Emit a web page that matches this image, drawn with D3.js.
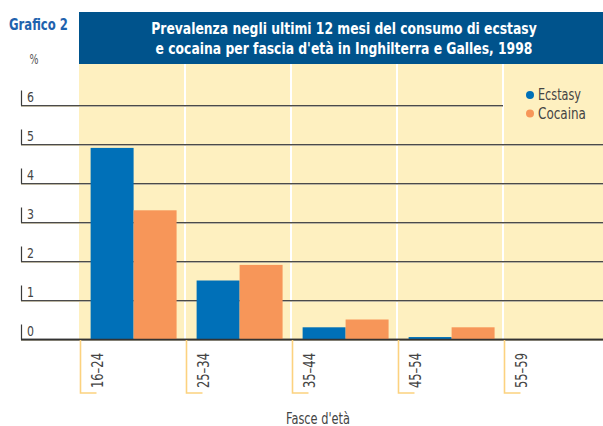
<!DOCTYPE html>
<html><head><meta charset="utf-8">
<script src="https://cdn.jsdelivr.net/npm/d3@7"></script>
<style>
html,body{margin:0;padding:0;background:#fff;}
svg{display:block;}
text{font-family:"Liberation Sans Narrow","DejaVu Sans Condensed","Arial Narrow",sans-serif;}
</style>
</head><body>
<svg id="chart" width="603" height="426"></svg>
<script>
const categories = ["16–24", "25–34", "35–44", "45–54", "55–59"];
const seriesNames = ["Ecstasy", "Cocaina"];
const ecstasy = [4.9, 1.5, 0.3, 0.05, 0];
const cocaina = [3.3, 1.9, 0.5, 0.3, 0];
const yTicks = [0, 1, 2, 3, 4, 5, 6];
const titleLines = ["Prevalenza negli ultimi 12 mesi del consumo di ecstasy", "e cocaina per fascia d'età in Inghilterra e Galles, 1998"];
const colors = {Ecstasy: "#0070b8", Cocaina: "#f79659"};

const svg = d3.select("#chart");
const W = 603, H = 426;
const plotLeft = 79, plotTop = 64, bandW = 106;

// place a text condensed horizontally to a target width (anchor: start|middle|end)
function fitText(parent, str, px, py, size, weight, fill, targetW, anchor, rotate) {
  const g = parent.append("g");
  const t = g.append("text").attr("font-size", size).attr("font-weight", weight).attr("fill", fill).attr("text-anchor", anchor).text(str);
  const w = t.node().getComputedTextLength();
  const sx = Math.min(1, targetW / w);
  g.attr("transform", `translate(${px},${py})` + (rotate ? ` rotate(${rotate})` : "") + ` scale(${sx},1)`);
  return g;
}

const x = d3.scaleBand().domain(categories).range([plotLeft, plotLeft + bandW * categories.length]).paddingInner(0).paddingOuter(0);
const xs = d3.scaleBand().domain(seriesNames).range([0, x.bandwidth()]).paddingInner(0).paddingOuter(0.233).align(0.58);
const y = d3.scaleLinear().domain([0, 6]).range([339, 105]);

// yellow background
svg.append("rect").attr("x", plotLeft).attr("y", plotTop).attr("width", W - plotLeft).attr("height", y(0) - plotTop).attr("fill", "#fef0c0");

// separators
svg.selectAll("line.sep").data(categories.slice(1)).join("line")
  .attr("x1", d => x(d)).attr("x2", d => x(d)).attr("y1", plotTop).attr("y2", y(0))
  .attr("stroke", "#ffffff").attr("stroke-width", 2);

// gridlines
const gridG = svg.append("g");
yTicks.forEach(t => {
  const yy = Math.round(y(t)) + 0.5;
  const xEnd = t === 6 ? x("55–59") : W;
  gridG.append("line").attr("x1", 21).attr("x2", xEnd).attr("y1", yy + 1).attr("y2", yy + 1).attr("stroke", "#b9b3a0").attr("stroke-width", 1);
  gridG.append("line").attr("x1", 21).attr("x2", xEnd).attr("y1", yy).attr("y2", yy).attr("stroke", "#4a4a4a").attr("stroke-width", t === 0 ? 1.6 : 1.2);
  gridG.append("line").attr("x1", 21.5).attr("x2", 21.5).attr("y1", yy - 15).attr("y2", yy).attr("stroke", "#3a3a3a").attr("stroke-width", 1.2);
  fitText(gridG, d3.format("d")(t), 27, yy - 4, 14.5, "normal", "#444", 7, "start");
});

// bars
const series = [ecstasy, cocaina];
seriesNames.forEach((s, si) => {
  svg.append("g").selectAll("rect").data(categories).join("rect")
    .attr("x", d => x(d) + xs(s))
    .attr("width", xs.bandwidth())
    .attr("y", (d, i) => y(series[si][i]))
    .attr("height", (d, i) => y(0) - y(series[si][i]))
    .attr("fill", colors[s]);
});

// redraw baseline on top
svg.append("line").attr("x1", 21).attr("x2", W).attr("y1", Math.round(y(0)) + 0.5).attr("y2", Math.round(y(0)) + 0.5).attr("stroke", "#333").attr("stroke-width", 1.6);

// x brackets and labels
const xg = svg.append("g");
categories.forEach(c => {
  const bx = x(c) + 1.5;
  xg.append("path").attr("d", `M${bx},${y(0) + 1}V393H${bx + 16}`).attr("fill", "none").attr("stroke", "#fcd27f").attr("stroke-width", 1.6);
  fitText(xg, c, x(c) + 24, 388, 16, "normal", "#444", 35, "start", -90);
});

// axis title
fitText(svg, "Fasce d'età", 318, 424, 15, "normal", "#444", 64, "middle");

// banner
svg.append("rect").attr("x", plotLeft).attr("y", 12).attr("width", W - plotLeft).attr("height", 52).attr("fill", "#00538c");
titleLines.forEach((t, i) => {
  fitText(svg, t, 344, 34 + i * 20, 16.5, "bold", "#fff", i === 0 ? 386 : 377, "middle");
});

fitText(svg, "Grafico 2", 9, 30, 16, "bold", "#1f62ae", 59, "start");
fitText(svg, "%", 34, 64, 14, "normal", "#555", 9, "middle");

// legend
const lg = svg.append("g");
seriesNames.forEach((s, i) => {
  lg.append("circle").attr("cx", 530).attr("cy", 95 + i * 18.5).attr("r", 4).attr("fill", colors[s]);
  fitText(lg, s, 538, 100 + i * 18.5, 15.5, "normal", "#444", i === 0 ? 43 : 48, "start");
});
</script>
</body></html>
